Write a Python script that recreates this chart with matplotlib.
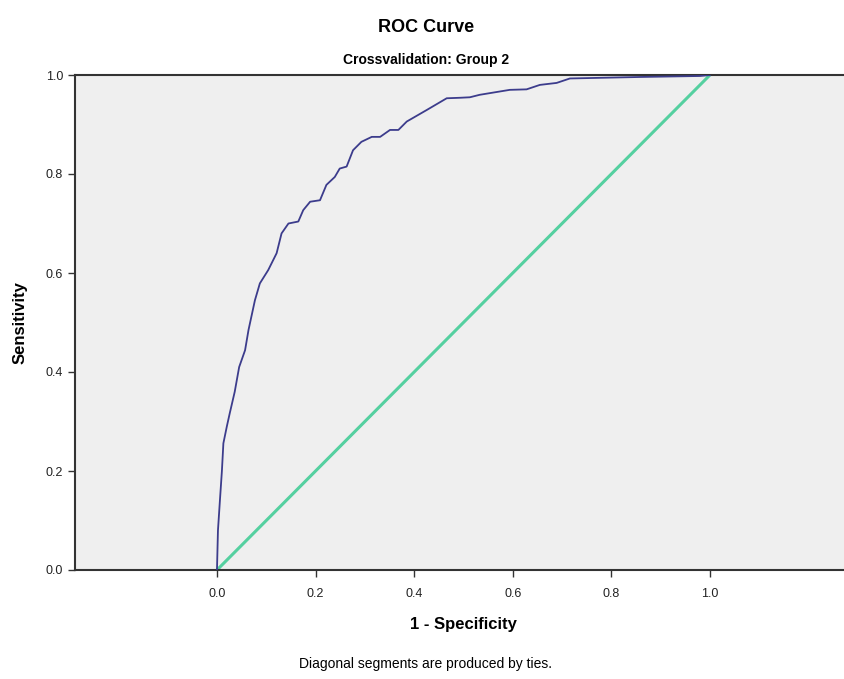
import matplotlib
matplotlib.use('Agg')
import matplotlib.pyplot as plt

# ROC curve (1 - specificity, sensitivity)
fpr = [0.0, 0.002, 0.006, 0.010, 0.013, 0.020, 0.026, 0.036, 0.045, 0.057,
       0.064, 0.077, 0.087, 0.104, 0.121, 0.131, 0.145, 0.165, 0.175, 0.189,
       0.209, 0.222, 0.239, 0.249, 0.263, 0.276, 0.293, 0.314, 0.331, 0.351,
       0.368, 0.385, 0.425, 0.466, 0.493, 0.513, 0.533, 0.594, 0.628, 0.655,
       0.689, 0.716, 0.858, 0.980, 1.0]
tpr = [0.0, 0.08, 0.141, 0.20, 0.256, 0.29, 0.317, 0.36, 0.41, 0.444,
       0.485, 0.545, 0.579, 0.606, 0.640, 0.680, 0.700, 0.704, 0.727, 0.744,
       0.747, 0.778, 0.794, 0.811, 0.815, 0.848, 0.865, 0.875, 0.875, 0.889,
       0.889, 0.906, 0.929, 0.953, 0.954, 0.955, 0.960, 0.970, 0.971, 0.980,
       0.984, 0.993, 0.996, 0.998, 1.0]
ref_x = [0.0, 1.0]
ref_y = [0.0, 1.0]
ticks = [0.0, 0.2, 0.4, 0.6, 0.8, 1.0]

plt.rcParams['font.family'] = ['Liberation Sans', 'DejaVu Sans']

fig = plt.figure(figsize=(8.45, 6.79), dpi=100)
ax = fig.add_axes([75/845, 109/679, 770/845, 495/679])
ax.set_facecolor('#efefef')

ax.plot(ref_x, ref_y, color='#55d0a0', lw=2.2, zorder=2)
ax.plot(fpr, tpr, color='#3c3c8c', lw=1.3, zorder=3)

ax.set_xlim(-0.288, 1.274)
ax.set_ylim(0, 1)
ax.set_xticks(ticks)
ax.set_yticks(ticks)
ax.set_xticklabels(['%.1f' % t for t in ticks], fontsize=9, color='#222222')
ax.set_yticklabels(['%.1f' % t for t in ticks], fontsize=9, color='#222222')
ax.tick_params(axis='both', direction='out', length=5, width=1, color='#333333')
ax.tick_params(axis='x', pad=8)

for side in ('left', 'bottom', 'top'):
    ax.spines[side].set_color('#333333')
    ax.spines[side].set_linewidth(1.5)
ax.spines['right'].set_visible(False)

ax.set_xlabel('1 - Specificity', fontsize=12, fontweight='bold', labelpad=10)
ax.xaxis.set_label_coords((0.5 + 0.288) / 1.562, -0.095)
ax.set_ylabel('Sensitivity', fontsize=12, fontweight='bold')
ax.yaxis.set_label_coords(-0.062, 0.5)

fig.text(426/845, 1 - 28/679, 'ROC Curve', ha='center', va='center',
         fontsize=13, fontweight='bold')
fig.text(426/845, 1 - 60/679, 'Crossvalidation: Group 2', ha='center',
         va='center', fontsize=10, fontweight='bold')
fig.text(426/845, 1 - 664/679, 'Diagonal segments are produced by ties.',
         ha='center', va='center', fontsize=10)

fig.savefig('out.png', dpi=100)
